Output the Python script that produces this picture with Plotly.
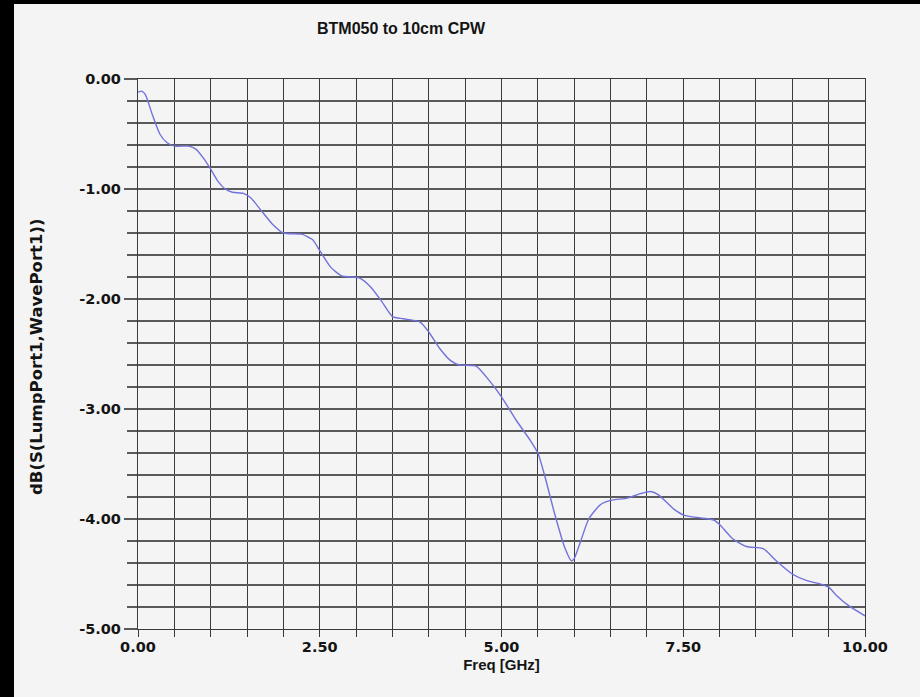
import plotly.graph_objects as go

# ---- data ----
freq_ghz = [0.0, 0.05, 0.1, 0.2, 0.3, 0.4, 0.5, 0.7, 0.8, 0.9, 1.0, 1.1, 1.2, 1.3, 1.45,
            1.55, 1.7, 1.85, 2.0, 2.25, 2.4, 2.5, 2.65, 2.8, 3.05, 3.2, 3.35, 3.5, 3.65,
            3.88, 4.0, 4.15, 4.3, 4.42, 4.65, 4.83, 5.0, 5.2, 5.4, 5.5, 5.6, 5.73, 5.87,
            5.96, 6.0, 6.09, 6.2, 6.36, 6.5, 6.73, 6.91, 7.05, 7.16, 7.37, 7.53, 7.74,
            7.92, 8.0, 8.18, 8.37, 8.6, 8.78, 9.0, 9.2, 9.38, 9.5, 9.6, 9.78, 10.0]
s21_db = [-0.12, -0.11, -0.14, -0.33, -0.50, -0.58, -0.61, -0.61, -0.64, -0.72, -0.82,
          -0.93, -1.00, -1.03, -1.04, -1.08, -1.20, -1.32, -1.40, -1.41, -1.46, -1.56,
          -1.71, -1.79, -1.81, -1.89, -2.02, -2.16, -2.18, -2.21, -2.30, -2.45, -2.56,
          -2.60, -2.61, -2.74, -2.89, -3.10, -3.29, -3.40, -3.62, -3.95, -4.26, -4.38,
          -4.36, -4.20, -4.00, -3.87, -3.83, -3.81, -3.77, -3.75, -3.78, -3.91, -3.97,
          -3.99, -4.01, -4.05, -4.18, -4.25, -4.27, -4.38, -4.50, -4.56, -4.59, -4.62,
          -4.69, -4.79, -4.88]

x_tickvals = [0, 2.5, 5, 7.5, 10]
x_ticktext = ["0.00", "2.50", "5.00", "7.50", "10.00"]
y_tickvals = [0, -1, -2, -3, -4, -5]
y_ticktext = ["0.00", "-1.00", "-2.00", "-3.00", "-4.00", "-5.00"]

title_text = "BTM050 to 10cm CPW"
x_title = "Freq [GHz]"
y_title = "dB(S(LumpPort1,WavePort1))"

# ---- layout constants ----
W, H = 920, 697
ML, MR, MT, MB = 138, 55, 79, 68
PW, PH = W - ML - MR, H - MT - MB
BG = "#f4f4f4"
FONT = "DejaVu Sans"
FONT2 = "Liberation Sans"
TXT = "#141414"

fig = go.Figure()
fig.add_trace(go.Scatter(
    x=freq_ghz, y=s21_db, mode="lines",
    line=dict(color="#7272dc", width=1.4, shape="spline", smoothing=0.6),
    showlegend=False, hoverinfo="skip"))

tickfont = dict(family=FONT, size=14.5, color=TXT, weight="bold")

fig.update_xaxes(
    range=[0, 10], tickvals=x_tickvals, ticktext=x_ticktext,
    showgrid=True, gridcolor="#3a3a3a", gridwidth=1.3,
    ticks="outside", ticklen=7, tickwidth=1.3, tickcolor="#3a3a3a",
    ticklabelstandoff=-3,
    minor=dict(dtick=0.5, tick0=0, showgrid=True, gridcolor="#3a3a3a", gridwidth=1.3,
               ticks="outside", ticklen=7, tickwidth=1.3, tickcolor="#3a3a3a"),
    showline=True, linecolor="#3a3a3a", linewidth=1.3, mirror=True,
    zeroline=False, tickfont=tickfont,
    title=dict(text=x_title, font=dict(family=FONT2, size=15, color=TXT, weight="bold"),
               standoff=5),
)
fig.update_yaxes(
    range=[-5, 0], tickvals=y_tickvals, ticktext=y_ticktext,
    showgrid=True, gridcolor="#5a5a5a", gridwidth=2,
    ticks="outside", ticklen=13, tickwidth=1.5, tickcolor="#5a5a5a",
    minor=dict(dtick=0.2, tick0=0, showgrid=True, gridcolor="#5a5a5a", gridwidth=2,
               ticks="outside", ticklen=10, tickwidth=1.5, tickcolor="#5a5a5a"),
    showline=True, linecolor="#3a3a3a", linewidth=1.3, mirror=True,
    zeroline=False, tickfont=tickfont,
)

fig.update_layout(
    width=W, height=H,
    margin=dict(l=ML, r=MR, t=MT, b=MB),
    paper_bgcolor=BG, plot_bgcolor=BG,
    title=dict(text=title_text, x=401 / W, xanchor="center", y=1 - 28 / H, yanchor="middle",
               font=dict(family=FONT2, size=16, color=TXT, weight="bold")),
    annotations=[dict(text=y_title, xref="paper", yref="paper",
                      x=(37 - ML) / PW, y=(H - MB - 357) / PH, textangle=-90,
                      showarrow=False, xanchor="center", yanchor="middle",
                      font=dict(family=FONT, size=16.5, color=TXT, weight="bold"))],
    shapes=[
        dict(type="rect", xref="paper", yref="paper", layer="above",
             x0=-ML / PW, x1=(14 - ML) / PW, y0=-MB / PH, y1=1 + MT / PH,
             fillcolor="black", line=dict(width=0)),
        dict(type="rect", xref="paper", yref="paper", layer="above",
             x0=-ML / PW, x1=1 + MR / PW, y0=1 + (MT - 4) / PH, y1=1 + MT / PH,
             fillcolor="black", line=dict(width=0)),
    ],
)

fig.write_html("out.html")
